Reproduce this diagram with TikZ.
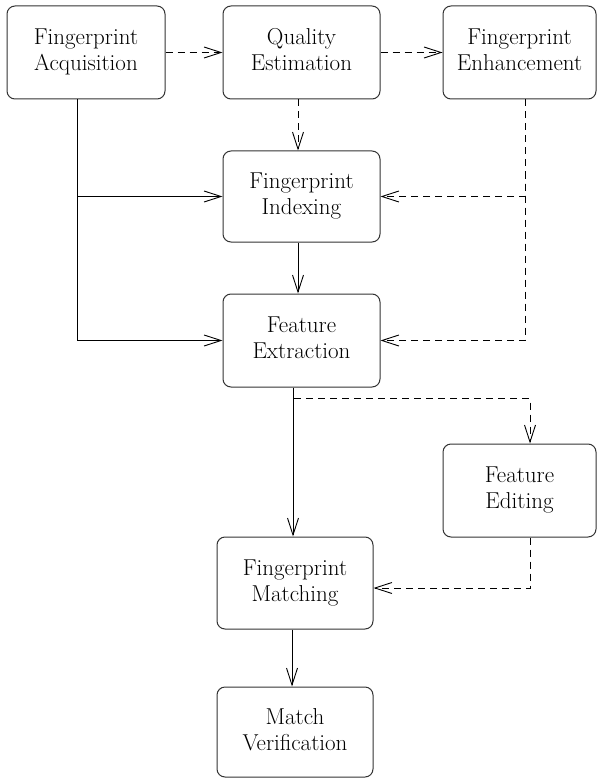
\documentclass[tikz,border=0pt]{standalone}
\usetikzlibrary{arrows.meta,calc}
\begin{document}
\begin{tikzpicture}[x=1pt,y=-1pt,
  box/.style={draw=black!80, line width=1pt, rounded corners=8pt, align=center,
    inner sep=0pt, font=\rmfamily\fontsize{23}{27}\selectfont},
  conn/.style={line width=0.9pt, -{Straight Barb[length=17pt,width=11pt,line width=0.9pt]}},
  dconn/.style={conn, dash pattern=on 7pt off 5pt},
]
\useasboundingbox (0,0) rectangle (597,778);
\newcommand\lbl[2]{\raisebox{5pt}{\begin{tabular}{@{}c@{}}#1\\[-1pt]#2\end{tabular}}}
\node[box, minimum width=158pt, minimum height=93pt] (acq) at (86,52.5) {\lbl{Fingerprint}{Acquisition}};
\node[box, minimum width=157pt, minimum height=93pt] (qual) at (301.5,52.5) {\lbl{Quality}{Estimation}};
\node[box, minimum width=153pt, minimum height=93pt] (enh) at (519.5,52.5) {\lbl{Fingerprint}{Enhancement}};
\node[box, minimum width=157pt, minimum height=91pt] (idx) at (301.5,196.5) {\lbl{Fingerprint}{Indexing}};
\node[box, minimum width=157pt, minimum height=93pt] (ext) at (301.5,340.5) {\lbl{Feature}{Extraction}};
\node[box, minimum width=153pt, minimum height=93pt] (edit) at (519.5,490.5) {\lbl{Feature}{Editing}};
\node[box, minimum width=156pt, minimum height=92pt] (match) at (295,583) {\lbl{Fingerprint}{Matching}};
\node[box, minimum width=156pt, minimum height=90pt] (ver) at (295,732) {\lbl{Match}{Verification}};

\draw[dconn] (acq) -- (qual);
\draw[dconn] (qual) -- (enh);
\draw[dconn] ([xshift=-3.5pt]qual.south) -- ([xshift=-3.5pt]idx.north);
\draw[conn] ([xshift=-9pt]acq.south) |- (ext.west);
\draw[conn] ([xshift=-9pt]acq.south) |- (idx.west);
\draw[dconn] ([xshift=5.5pt]enh.south) |- (ext.east);
\draw[dconn] ([xshift=5.5pt]enh.south) |- (idx.east);
\draw[conn] ([xshift=-3.5pt]idx.south) -- ([xshift=-3.5pt]ext.north);
\draw[conn] ([xshift=-8.5pt]ext.south) -- ([xshift=-8.5pt]ext.south |- match.north);
\draw[dconn] ([xshift=-8.5pt]ext.south) -- ++(0,11) -| ([xshift=10.5pt]edit.north);
\draw[dconn] ([xshift=10.5pt]edit.south) |- ([yshift=-5pt]match.east);
\draw[conn] ([xshift=-3pt]match.south) -- ([xshift=-3pt]ver.north);
\end{tikzpicture}
\end{document}
